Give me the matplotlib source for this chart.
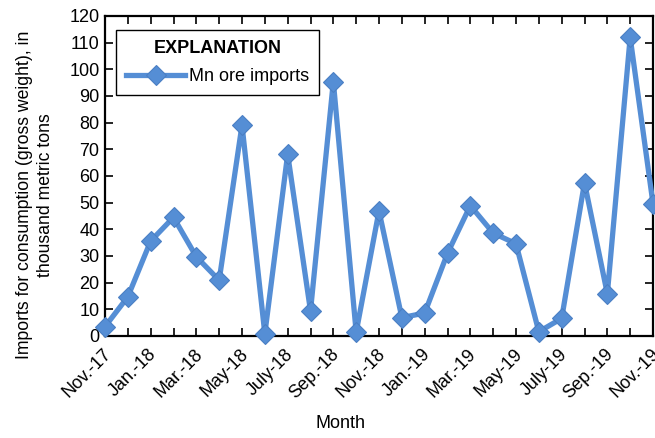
import matplotlib.pyplot as plt
from matplotlib.transforms import ScaledTranslation

months = ['Nov.-17', 'Dec.-17', 'Jan.-18', 'Feb.-18', 'Mar.-18', 'Apr.-18', 'May-18',
          'June-18', 'July-18', 'Aug.-18', 'Sep.-18', 'Oct.-18', 'Nov.-18', 'Dec.-18',
          'Jan.-19', 'Feb.-19', 'Mar.-19', 'Apr.-19', 'May-19', 'June-19', 'July-19',
          'Aug.-19', 'Sep.-19', 'Oct.-19', 'Nov.-19']
imports = [3.5, 14.7, 35.6, 44.5, 29.7, 20.9, 79.1, 0.8, 68.2, 9.4, 95.4, 1.4, 46.9,
           6.9, 8.6, 31.0, 48.9, 38.6, 34.6, 1.6, 6.6, 57.5, 15.8, 112.0, 49.6]

plt.rcParams['font.family'] = ['Liberation Sans', 'DejaVu Sans']
fs = 13

fig = plt.figure(figsize=(6.55, 4.38), dpi=100)
ax = fig.add_axes([105 / 655, 1 - 336 / 438, 548 / 655, 320 / 438])

x = list(range(len(months)))
ax.plot(x, imports, color='#558ED5', lw=3.8, marker='D', markersize=10,
        markerfacecolor='#558ED5', markeredgecolor='#4A7FC4', markeredgewidth=0.8,
        label='Mn ore imports', clip_on=False, zorder=3)

ax.set_xlim(0, len(months) - 1)
ax.set_ylim(0, 120)
ax.set_yticks(range(0, 121, 10))
ax.set_xticks(x)
ax.set_xticklabels([m if i % 2 == 0 else '' for i, m in enumerate(months)],
                   rotation=45, ha='right', rotation_mode='anchor', fontsize=fs)
ax.tick_params(axis='both', direction='in', length=6, width=1.2,
               top=True, right=True, labelsize=fs, colors='black')
ax.tick_params(axis='x', pad=7)
ax.tick_params(axis='y', pad=4)
for s in ax.spines.values():
    s.set_linewidth(1.6)

# nudge the slanted month labels a little to the left
shift = ScaledTranslation(-2.5 / 100, 0, fig.dpi_scale_trans)
for lbl in ax.get_xticklabels():
    lbl.set_transform(lbl.get_transform() + shift)

ax.set_xlabel('Month', fontsize=fs)
ax.xaxis.set_label_coords(0.43, -0.247)
ax.set_ylabel('Imports for consumption (gross weight), in\nthousand metric tons',
              fontsize=fs - 0.3, linespacing=1.3)
ax.yaxis.set_label_coords(-0.093, 0.44)

leg = ax.legend(loc='upper left', bbox_to_anchor=(0.02, 0.956), borderaxespad=0,
                title='EXPLANATION', fontsize=fs,
                title_fontproperties={'weight': 'bold', 'size': fs},
                fancybox=False, edgecolor='black', framealpha=1, handlelength=3.3,
                handletextpad=0.2, borderpad=0.55, labelspacing=0.6)
leg.get_frame().set_linewidth(1.0)

fig.savefig('out.png', dpi=100)
